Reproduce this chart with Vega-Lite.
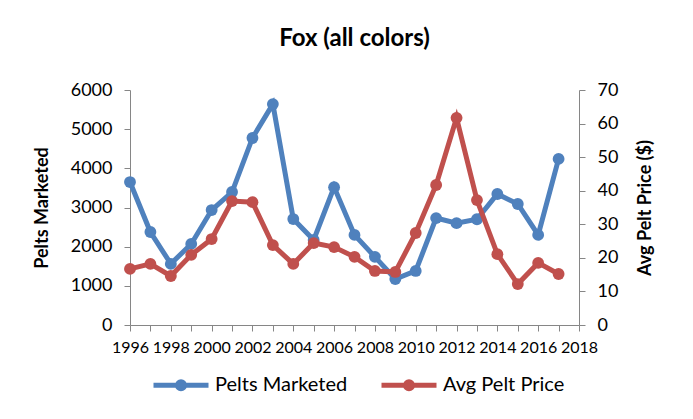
{
  "$schema": "https://vega.github.io/schema/vega-lite/v6.json",
  "autosize": {"type": "none"},
  "width": 449,
  "height": 235,
  "padding": {"left": 130, "top": 90, "right": 114, "bottom": 94},
  "background": "white",
  "config": {
    "font": "Lato",
    "view": {"stroke": null},
    "axis": {"grid": false, "domainColor": "#868686", "tickColor": "#868686", "labelColor": "#000000", "titleColor": "#000000", "labelFont": "Lato", "titleFont": "Lato", "labelFontSize": 18, "titleFontSize": 18, "titleFontWeight": "bold", "tickSize": 6, "domainWidth": 1, "tickWidth": 1}
  },
  "title": {"text": "Fox (all colors)", "fontSize": 24, "fontWeight": "bold", "font": "Lato", "color": "#000000", "offset": 30},
  "data": {"values": [
    {"year": 1996, "series": "Pelts Marketed", "value": 3650},
    {"year": 1997, "series": "Pelts Marketed", "value": 2375},
    {"year": 1998, "series": "Pelts Marketed", "value": 1560},
    {"year": 1999, "series": "Pelts Marketed", "value": 2070},
    {"year": 2000, "series": "Pelts Marketed", "value": 2935},
    {"year": 2001, "series": "Pelts Marketed", "value": 3395},
    {"year": 2002, "series": "Pelts Marketed", "value": 4775},
    {"year": 2003, "series": "Pelts Marketed", "value": 5640},
    {"year": 2004, "series": "Pelts Marketed", "value": 2705},
    {"year": 2005, "series": "Pelts Marketed", "value": 2170},
    {"year": 2006, "series": "Pelts Marketed", "value": 3520},
    {"year": 2007, "series": "Pelts Marketed", "value": 2300},
    {"year": 2008, "series": "Pelts Marketed", "value": 1740},
    {"year": 2009, "series": "Pelts Marketed", "value": 1175},
    {"year": 2010, "series": "Pelts Marketed", "value": 1380},
    {"year": 2011, "series": "Pelts Marketed", "value": 2730},
    {"year": 2012, "series": "Pelts Marketed", "value": 2600},
    {"year": 2013, "series": "Pelts Marketed", "value": 2700},
    {"year": 2014, "series": "Pelts Marketed", "value": 3345},
    {"year": 2015, "series": "Pelts Marketed", "value": 3090},
    {"year": 2016, "series": "Pelts Marketed", "value": 2300},
    {"year": 2017, "series": "Pelts Marketed", "value": 4240},
    {"year": 1996, "series": "Avg Pelt Price", "value": 16.7},
    {"year": 1997, "series": "Avg Pelt Price", "value": 18.2},
    {"year": 1998, "series": "Avg Pelt Price", "value": 14.6},
    {"year": 1999, "series": "Avg Pelt Price", "value": 20.9},
    {"year": 2000, "series": "Avg Pelt Price", "value": 25.6},
    {"year": 2001, "series": "Avg Pelt Price", "value": 36.9},
    {"year": 2002, "series": "Avg Pelt Price", "value": 36.6},
    {"year": 2003, "series": "Avg Pelt Price", "value": 23.8},
    {"year": 2004, "series": "Avg Pelt Price", "value": 18.2},
    {"year": 2005, "series": "Avg Pelt Price", "value": 24.4},
    {"year": 2006, "series": "Avg Pelt Price", "value": 23.2},
    {"year": 2007, "series": "Avg Pelt Price", "value": 20.3},
    {"year": 2008, "series": "Avg Pelt Price", "value": 16.1},
    {"year": 2009, "series": "Avg Pelt Price", "value": 15.8},
    {"year": 2010, "series": "Avg Pelt Price", "value": 27.4},
    {"year": 2011, "series": "Avg Pelt Price", "value": 41.7},
    {"year": 2012, "series": "Avg Pelt Price", "value": 61.7},
    {"year": 2013, "series": "Avg Pelt Price", "value": 37.2},
    {"year": 2014, "series": "Avg Pelt Price", "value": 21.1},
    {"year": 2015, "series": "Avg Pelt Price", "value": 12.2},
    {"year": 2016, "series": "Avg Pelt Price", "value": 18.5},
    {"year": 2017, "series": "Avg Pelt Price", "value": 15.2}
  ]},
  "encoding": {
    "x": {"field": "year", "type": "quantitative", "scale": {"domain": [1996, 2018], "nice": false, "zero": false},
      "axis": {"title": null, "values": [1996,1997,1998,1999,2000,2001,2002,2003,2004,2005,2006,2007,2008,2009,2010,2011,2012,2013,2014,2015,2016,2017,2018], "labelExpr": "datum.value % 2 == 0 ? datum.value : ''", "labelPadding": 8, "labelFontSize": 16, "labelFlush": false, "labelOverlap": false}},
    "color": {"field": "series", "type": "nominal", "scale": {"domain": ["Pelts Marketed", "Avg Pelt Price"], "range": ["#4F81BD", "#C0504D"]},
      "legend": {"title": null, "orient": "none", "legendX": 21, "legendY": 265, "direction": "horizontal", "labelFontSize": 20, "labelFont": "Lato", "labelColor": "#000000", "symbolType": "M-1,0H1M-0.127,0A0.127,0.127 0 1,0 0.127,0A0.127,0.127 0 1,0 -0.127,0Z", "symbolSize": 3025, "symbolStrokeWidth": 5, "labelOffset": 4, "columnPadding": 23,
        "encode": {"symbols": {"update": {"fill": {"scale": "color", "field": "value"}, "opacity": {"value": 1}}}}}}
  },
  "layer": [
    {
      "transform": [{"filter": "datum.series == 'Pelts Marketed'"}],
      "mark": {"type": "line", "strokeWidth": 5, "point": {"filled": true, "size": 140, "opacity": 1}},
      "encoding": {
        "y": {"field": "value", "type": "quantitative", "scale": {"domain": [0, 6000], "nice": false},
          "axis": {"title": "Pelts Marketed", "orient": "left", "format": "d", "values": [0,1000,2000,3000,4000,5000,6000], "labelPadding": 12, "titlePadding": 19}}
      }
    },
    {
      "transform": [{"filter": "datum.series == 'Avg Pelt Price'"}],
      "mark": {"type": "line", "strokeWidth": 5, "point": {"filled": true, "size": 140, "opacity": 1}},
      "encoding": {
        "y": {"field": "value", "type": "quantitative", "scale": {"domain": [0, 70], "nice": false},
          "axis": {"title": "Avg Pelt Price ($)", "orient": "right", "titleAngle": 270, "values": [0,10,20,30,40,50,60,70], "labelPadding": 12, "titlePadding": 37}}
      }
    }
  ],
  "resolve": {"scale": {"y": "independent"}}
}
